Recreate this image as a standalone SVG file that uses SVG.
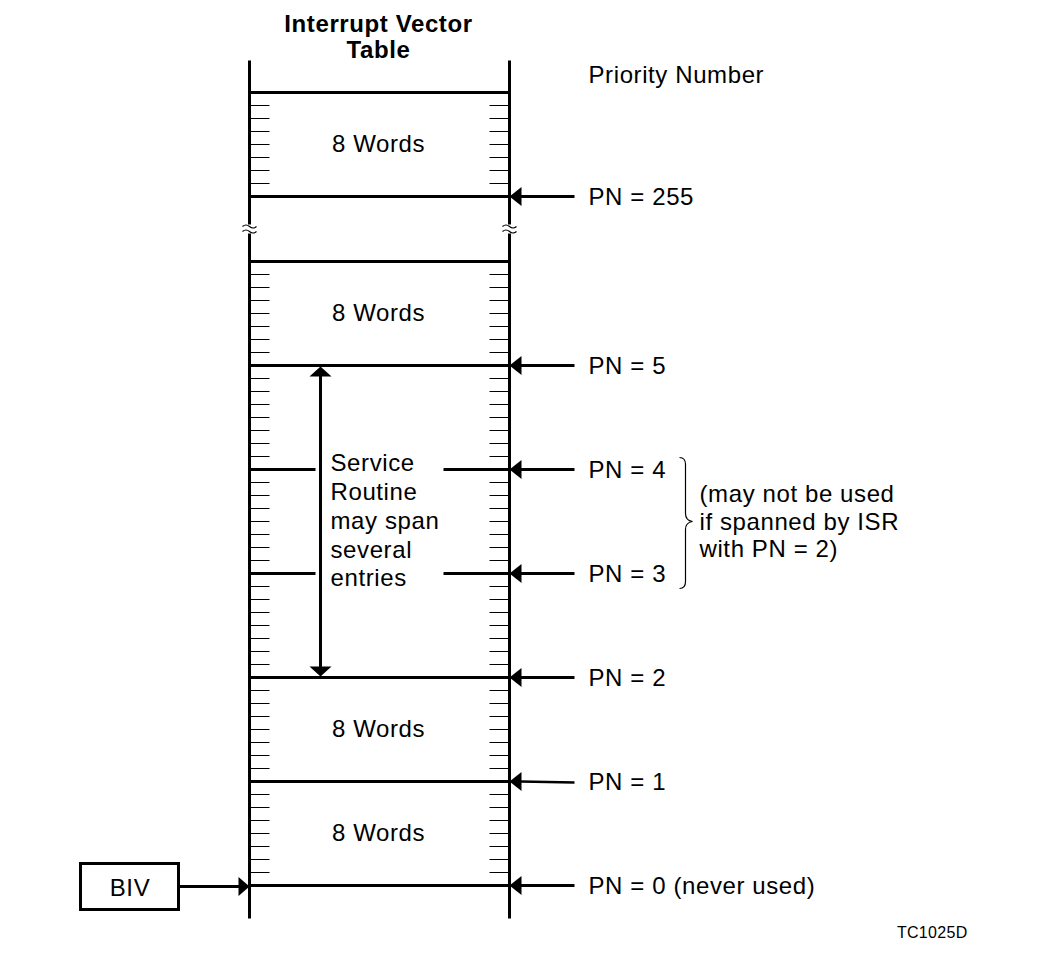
<svg xmlns="http://www.w3.org/2000/svg" width="1049" height="960" viewBox="0 0 1049 960">
<defs>
<style>
text{font-family:"Liberation Sans",Arial,Helvetica,sans-serif;font-size:24px;letter-spacing:0.6px;fill:#000}
.title{font-weight:bold}
.mid{text-anchor:middle}
.thick{stroke:#000;stroke-width:3;fill:none}
.tick{stroke:#000;stroke-width:1.1;fill:none}
.thin{stroke:#000;stroke-width:1.2;fill:none}
.head{fill:#000;stroke:none}
</style>
</defs>
<rect width="1049" height="960" fill="#fff"/>
<g transform="translate(0.5,0.5)">
<g id="title">
<text class="title mid" x="378" y="31">Interrupt Vector</text>
<text class="title mid" x="378" y="57">Table</text>
</g>
<text id="pn-header" x="588" y="82">Priority Number</text>

<g id="vector-table">
<path class="thick" d="M249,60V224M249,233V918M509,60V224M509,233V918"/>
<path class="thin" d="M242,226q3.5,-3 7,0t7,0M242,231q3.5,-3 7,0t7,0M502,226q3.5,-3 7,0t7,0M502,231q3.5,-3 7,0t7,0"/>
<path class="thick" d="M249,92H509M249,196H509M249,261H509M249,365H509M249,677H509M249,781H509M249,885H509"/>
<path class="thick" d="M249,469H315M443,469H509M249,573H315M443,573H509"/>
<path class="tick" d="M249,105h20M249,118h20M249,131h20M249,144h20M249,157h20M249,170h20M249,183h20
M249,274h20M249,287h20M249,300h20M249,313h20M249,326h20M249,339h20M249,352h20
M249,378h20M249,391h20M249,404h20M249,417h20M249,430h20M249,443h20M249,456h20
M249,482h20M249,495h20M249,508h20M249,521h20M249,534h20M249,547h20M249,560h20
M249,586h20M249,599h20M249,612h20M249,625h20M249,638h20M249,651h20M249,664h20
M249,690h20M249,703h20M249,716h20M249,729h20M249,742h20M249,755h20M249,768h20
M249,794h20M249,807h20M249,820h20M249,833h20M249,846h20M249,859h20M249,872h20
M489,105h20M489,118h20M489,131h20M489,144h20M489,157h20M489,170h20M489,183h20
M489,274h20M489,287h20M489,300h20M489,313h20M489,326h20M489,339h20M489,352h20
M489,378h20M489,391h20M489,404h20M489,417h20M489,430h20M489,443h20M489,456h20
M489,482h20M489,495h20M489,508h20M489,521h20M489,534h20M489,547h20M489,560h20
M489,586h20M489,599h20M489,612h20M489,625h20M489,638h20M489,651h20M489,664h20
M489,690h20M489,703h20M489,716h20M489,729h20M489,742h20M489,755h20M489,768h20
M489,794h20M489,807h20M489,820h20M489,833h20M489,846h20M489,859h20M489,872h20"/>
<text class="mid" x="378" y="151">8 Words</text>
<text class="mid" x="378" y="320">8 Words</text>
<text class="mid" x="378" y="736">8 Words</text>
<text class="mid" x="378" y="840">8 Words</text>
</g>

<g id="service-routine">
<text x="330" y="470">Service</text>
<text x="330" y="499">Routine</text>
<text x="330" y="528">may span</text>
<text x="330" y="557">several</text>
<text x="330" y="585">entries</text>
</g>

<g id="biv">
<rect x="80" y="863" width="98" height="46" fill="#fff" stroke="#000" stroke-width="3"/>
<text class="mid" x="129.5" y="895">BIV</text>
</g>

<g id="pn-labels">
<text x="588" y="204">PN = 255</text>
<text x="588" y="373">PN = 5</text>
<text x="588" y="477">PN = 4</text>
<text x="588" y="581">PN = 3</text>
<text x="588" y="685">PN = 2</text>
<text x="588" y="789">PN = 1</text>
<text x="588" y="893">PN = 0 (never used)</text>
</g>

<g id="note">
<path class="thin" d="M679,457Q685,457 685,464V513Q685,520 692,521Q685,522 685,529V581Q685,588 679,588"/>
<text x="699" y="501">(may not be used</text>
<text x="699" y="529">if spanned by ISR</text>
<text x="699" y="556">with PN = 2)</text>
</g>

<text id="fig-id" x="967" y="937" style="font-size:16px;letter-spacing:0.3px;text-anchor:end">TC1025D</text>

<g id="connectors">
<path class="thick" d="M520,196H574M520,365H574M520,469H574M520,573H574M520,677H574M520,885H574M179,886H239"/>
<path stroke="#000" stroke-width="2.4" fill="none" d="M520,781L574,782"/>
<path class="thick" d="M320,375V667"/>
<polygon class="head" points="320,366 309,376 331,376"/>
<polygon class="head" points="320,676 309,666 331,666"/>
<polygon class="head" points="509,196 521,186.5 521,205.5"/>
<polygon class="head" points="509,365 521,355.5 521,374.5"/>
<polygon class="head" points="509,469 521,459.5 521,478.5"/>
<polygon class="head" points="509,573 521,563.5 521,582.5"/>
<polygon class="head" points="509,677 521,667.5 521,686.5"/>
<polygon class="head" points="509,781 521,771.5 521,790.5"/>
<polygon class="head" points="509,885 521,875.5 521,894.5"/>
<polygon class="head" points="249,886 238,876.5 238,895.5"/>
</g>
</g>
</svg>
